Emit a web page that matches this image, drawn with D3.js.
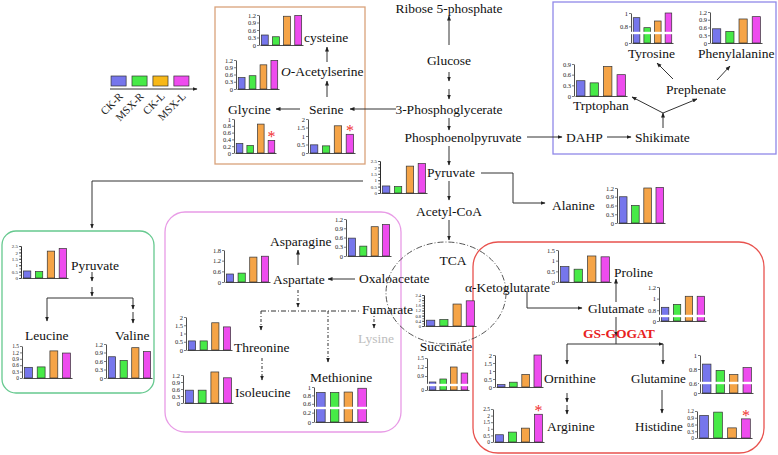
<!DOCTYPE html>
<html><head><meta charset="utf-8">
<script src="https://cdn.jsdelivr.net/npm/d3@7"></script>
<style>body{margin:0;background:#fff}svg{display:block}</style>
</head><body>
<svg id="c" width="778" height="455"></svg>
<script>
// ---------------- DATA ----------------
const groups = ["CK-R", "MSX-R", "CK-L", "MSX-L"];
const barColors = ["#7676ec", "#47ea47", "#f5a447", "#ee4cee"];
const legendColors = ["#7676ec", "#47ea47", "#f7b818", "#ee4cee"];

const cysteineVals      = [0.40, 0.33, 1.15, 1.18];
const oAcetylserineVals = [0.47, 0.55, 1.00, 1.18];
const glycineVals       = [0.28, 0.22, 0.85, 0.37];
const serineVals        = [0.48, 0.42, 1.60, 1.10];
const tyrosineVals      = [0.93, 0.78, 0.88, 1.00];
const phenylalanineVals = [0.55, 0.45, 0.93, 1.02];
const tryptophanVals    = [0.43, 0.37, 0.83, 0.60];
const pyruvateVals      = [0.55, 0.50, 2.10, 2.30];
const alanineVals       = [0.90, 0.60, 1.20, 1.22];
const leucineVals       = [0.50, 0.52, 1.27, 1.17];
const valineVals        = [0.75, 0.62, 1.07, 0.93];
const asparagineVals    = [0.58, 0.32, 0.95, 1.02];
const aspartateVals     = [0.45, 0.50, 1.40, 1.45];
const threonineVals     = [0.55, 0.55, 1.65, 1.40];
const isoleucineVals    = [0.55, 0.55, 1.33, 1.08];
const methionineVals    = [0.87, 0.87, 0.88, 0.97];
const fumarateVals      = [0.45, 0.50, 1.70, 1.95];
const succinateVals     = [0.70, 0.80, 1.20, 1.00];
const prolineVals       = [0.72, 0.60, 1.22, 1.18];
const glutamateVals     = [0.85, 0.90, 1.04, 1.04];
const ornithineVals     = [0.15, 0.30, 0.78, 2.00];
const arginineVals      = [0.55, 0.75, 1.05, 2.10];
const glutamineVals     = [0.87, 0.78, 0.72, 0.82];
const histidineVals     = [1.00, 1.15, 0.45, 0.85];

const ticks09  = [0, 0.3, 0.6, 0.9];
const ticks12  = [0, 0.3, 0.6, 0.9, 1.2];
const ticks15  = [0, 0.3, 0.6, 0.9, 1.2, 1.5];
const ticks15b = [0, 0.5, 1, 1.5];
const ticks1   = [0, 0.2, 0.4, 0.6, 0.8, 1];
const ticks18  = [0, 0.6, 1.2, 1.8];
const ticks2   = [0, 0.5, 1, 1.5, 2];
const ticks24  = [0, 0.4, 0.8, 1.2, 1.6, 2, 2.4];
const ticks25  = [0, 0.5, 1, 1.5, 2, 2.5];
const tyrosineTicks   = [0, 0.8, 1];
const methionineTicks = [0, 0.2, 0.6, 0.8, 1];
const succinateTicks  = [0, 0.9, 1.2, 1.5];
const glutamateTicks  = [0, 0.8, 1, 1.2];
const glutamineTicks  = [0, 0.6, 0.8, 1];

// ---------------- SETUP ----------------
const svg = d3.select("#c");
const FONT = "'Liberation Serif','Times New Roman',serif";
const defs = svg.append("defs");
defs.append("marker").attr("id", "ah").attr("viewBox", "0 0 10 10")
  .attr("refX", 9).attr("refY", 5).attr("markerWidth", 5).attr("markerHeight", 5)
  .attr("orient", "auto")
  .append("path").attr("d", "M0,1L10,5L0,9z").attr("fill", "#222");

// boxes
svg.append("rect").attr("x", 215).attr("y", 7).attr("width", 150).attr("height", 157)
  .attr("fill", "none").attr("stroke", "#d9a27a").attr("stroke-width", 1.3);
svg.append("rect").attr("x", 553).attr("y", 2).attr("width", 223).attr("height", 152)
  .attr("fill", "none").attr("stroke", "#9088e8").attr("stroke-width", 1.3);
svg.append("rect").attr("x", 2).attr("y", 231).attr("width", 152).attr("height", 162).attr("rx", 14)
  .attr("fill", "none").attr("stroke", "#66c98f").attr("stroke-width", 1.3);
svg.append("rect").attr("x", 165).attr("y", 212).attr("width", 236).attr("height", 220).attr("rx", 20)
  .attr("fill", "none").attr("stroke", "#e89be6").attr("stroke-width", 1.3);
svg.append("rect").attr("x", 473).attr("y", 242).attr("width", 291).attr("height", 211).attr("rx", 25)
  .attr("fill", "none").attr("stroke", "#e8524e").attr("stroke-width", 1.3);
svg.append("ellipse").attr("cx", 446).attr("cy", 293).attr("rx", 60).attr("ry", 51)
  .attr("fill", "none").attr("stroke", "#444").attr("stroke-width", 0.9)
  .attr("stroke-dasharray", "6,2,1,2");

// connectors
const arrows = [
  [[449,45],[449,16]], [[449,72],[449,81]], [[449,89],[449,99]], [[449,118],[449,130]],
  [[449,146],[449,165]], [[396,109],[350,109]], [[527,137],[562,137]],
  [[449,181],[449,200]], [[449,220],[449,240]],
  [[481,173],[513,173],[513,203],[545,203]],
  [[363,181],[92,181],[92,228]],
  [[300,109],[276,109]], [[327,62],[327,47]], [[327,97],[327,81]],
  [[110,89],[197,89]],
  [[607,137],[631,137]], [[663,128],[663,113]], [[663,113],[632,97]], [[663,113],[697,99]],
  [[673,79],[657,63]], [[717,80],[730,66]],
  [[92,272],[92,281]], [[92,287],[92,296]], [[47,298],[47,321]],
  [[133,298],[133,309]], [[133,312],[133,323]],
  [[298,265],[298,250]], [[355,279],[328,279]],
  [[527,292],[527,308],[582,308]], [[616,302],[616,279]],
  [[616,317],[616,336]], [[567,344],[663,344]], [[567,344],[567,364]], [[663,344],[663,364]],
  [[567,393],[567,402]], [[567,405],[567,414]], [[662,390],[662,413]]
];
const plainLines = [ [[47,298],[133,298]], [[616,336],[616,344]] ];
const dashArrows = [
  [[298,290],[298,307]], [[261,311],[261,330]], [[328,311],[328,362]],
  [[374,311],[374,328]], [[262,358],[262,380]]
];
const dashLines = [ [[261,311],[360,311]] ];
const line = d3.line();
arrows.forEach(p => svg.append("path").attr("d", line(p)).attr("fill", "none")
  .attr("stroke", "#333").attr("stroke-width", 1).attr("marker-end", "url(#ah)"));
plainLines.forEach(p => svg.append("path").attr("d", line(p)).attr("fill", "none")
  .attr("stroke", "#333").attr("stroke-width", 1));
dashArrows.forEach(p => svg.append("path").attr("d", line(p)).attr("fill", "none")
  .attr("stroke", "#333").attr("stroke-width", 1).attr("stroke-dasharray", "3,2,1,2").attr("marker-end", "url(#ah)"));
dashLines.forEach(p => svg.append("path").attr("d", line(p)).attr("fill", "none")
  .attr("stroke", "#333").attr("stroke-width", 1).attr("stroke-dasharray", "5,2,1,2"));

// ---------------- CHARTS ----------------
const charts = [
  {v: cysteineVals, t: ticks12, max: 1.2, x: 259, y: 45, w: 44, h: 30},
  {v: oAcetylserineVals, t: ticks12, max: 1.2, x: 236, y: 89, w: 43, h: 29},
  {v: glycineVals, t: ticks1, max: 1, x: 234, y: 153, w: 42, h: 34, star: 3},
  {v: serineVals, t: ticks2, max: 2, x: 308, y: 153, w: 47, h: 34, star: 3},
  {v: tyrosineVals, t: tyrosineTicks, max: 1, x: 631, y: 43, w: 42, h: 30, brk: {lo: 0.7, h: 10}},
  {v: phenylalanineVals, t: ticks12, max: 1.2, x: 710, y: 43, w: 52, h: 31},
  {v: tryptophanVals, t: ticks09, max: 0.9, x: 574, y: 96, w: 53, h: 32},
  {v: pyruvateVals, t: ticks25, max: 2.5, x: 380, y: 193, w: 47, h: 32, minor: 0.25, fs: 5},
  {v: alanineVals, t: ticks12, max: 1.2, x: 617, y: 223, w: 48, h: 35},
  {v: pyruvateVals, t: ticks25, max: 2.5, x: 21, y: 278, w: 47, h: 32, minor: 0.25, fs: 5},
  {v: leucineVals, t: ticks15, max: 1.5, x: 22, y: 378, w: 50, h: 32, fs: 5.5},
  {v: valineVals, t: ticks12, max: 1.2, x: 106, y: 378, w: 46, h: 34},
  {v: asparagineVals, t: ticks12, max: 1.2, x: 346, y: 256, w: 45, h: 37},
  {v: aspartateVals, t: ticks18, max: 1.8, x: 224, y: 282, w: 46, h: 32},
  {v: threonineVals, t: ticks2, max: 2, x: 186, y: 350, w: 46, h: 33},
  {v: isoleucineVals, t: ticks12, max: 1.2, x: 183, y: 403, w: 50, h: 28},
  {v: methionineVals, t: methionineTicks, max: 1, x: 314, y: 422, w: 54, h: 35, brk: {lo: 0.5, lowMax: 0.3, h: 14}},
  {v: fumarateVals, t: ticks24, max: 2.4, x: 424, y: 326, w: 52, h: 31, minor: 0.2, fs: 4.5},
  {v: succinateVals, t: succinateTicks, max: 1.5, x: 427, y: 390, w: 42, h: 32, brk: {lo: 0.6, h: 5}, fs: 5.5},
  {v: prolineVals, t: ticks15b, max: 1.5, x: 558, y: 282, w: 53, h: 32},
  {v: glutamateVals, t: glutamateTicks, max: 1.2, x: 659, y: 321, w: 47, h: 34, brk: {lo: 0.7, h: 5}},
  {v: ornithineVals, t: ticks2, max: 2, x: 495, y: 387, w: 48, h: 32},
  {v: arginineVals, t: ticks25, max: 2.5, x: 493, y: 442, w: 51, h: 33, star: 3, fs: 5.5},
  {v: glutamineVals, t: glutamineTicks, max: 1, x: 700, y: 393, w: 53, h: 38, brk: {lo: 0.6, h: 10}},
  {v: histidineVals, t: ticks12, max: 1.2, x: 697, y: 438, w: 55, h: 27, star: 3, fs: 5.5}
];

function styleAxis(sel, fs) {
  sel.selectAll("path.domain").attr("stroke", "#222").attr("stroke-width", 0.8);
  sel.selectAll(".tick line").attr("stroke", "#222").attr("stroke-width", 0.6);
  sel.selectAll("text").attr("font-family", FONT).attr("font-size", fs).attr("fill", "#222");
}

charts.forEach(c => {
  const g = svg.append("g");
  const fs = c.fs || 6.5;
  const x = d3.scaleBand().domain(groups).range([c.x + 1, c.x + c.w])
    .paddingInner(0.38).paddingOuter(0.12);
  let yUp, yLow = null;
  if (c.brk) {
    yUp = d3.scaleLinear().domain([c.brk.lo, c.max]).range([c.y - c.brk.h, c.y - c.h]);
    yLow = d3.scaleLinear().domain([0, c.brk.lowMax || c.brk.lo]).range([c.y, c.y - c.brk.h]);
  } else {
    yUp = d3.scaleLinear().domain([0, c.max]).range([c.y, c.y - c.h]);
  }
  const yv = v => (yLow && v < c.brk.lo) ? yLow(v) : yUp(v);

  g.selectAll("rect.bar").data(c.v).join("rect").attr("class", "bar")
    .attr("x", (d, i) => x(groups[i])).attr("width", x.bandwidth())
    .attr("y", d => yv(d)).attr("height", d => c.y - yv(d))
    .attr("fill", (d, i) => barColors[i]).attr("stroke", "#333").attr("stroke-width", 0.7);

  if (c.minor) {
    const mg = g.append("g").attr("transform", `translate(${c.x},0)`)
      .call(d3.axisLeft(yUp).tickValues(d3.range(0, c.max + 1e-9, c.minor)).tickSize(1.5).tickSizeOuter(0).tickFormat(""));
    styleAxis(mg, fs);
  }
  const upTicks = c.t.filter(t => !yLow || t >= c.brk.lo);
  const ag = g.append("g").attr("transform", `translate(${c.x},0)`)
    .call(d3.axisLeft(yUp).tickValues(upTicks).tickSize(2).tickSizeOuter(0).tickPadding(1).tickFormat(d => d));
  styleAxis(ag, fs);
  if (yLow) {
    const lowTicks = c.t.filter(t => t < c.brk.lo);
    const lg = g.append("g").attr("transform", `translate(${c.x},0)`)
      .call(d3.axisLeft(yLow).tickValues(lowTicks).tickSize(2).tickSizeOuter(0).tickPadding(1).tickFormat(d => d));
    styleAxis(lg, fs);
  }
  const xg = g.append("g").attr("transform", `translate(0,${c.y})`)
    .call(d3.axisBottom(x).tickSize(0).tickSizeOuter(0).tickFormat(""));
  styleAxis(xg, fs);
  if (c.brk) {
    g.append("rect").attr("x", c.x - 1).attr("y", c.y - c.brk.h - 1.2)
      .attr("width", c.w + 2).attr("height", 2.4).attr("fill", "#fff");
  }
  if (c.star != null) {
    const i = c.star;
    g.append("text").attr("x", x(groups[i]) + x.bandwidth() / 2).attr("y", yv(c.v[i]) + 2)
      .attr("text-anchor", "middle").attr("font-family", FONT).attr("font-size", 16)
      .attr("fill", "#f03030").text("*");
  }
});

// ---------------- LEGEND ----------------
const lx = d3.scaleBand().domain(groups).range([110, 190]).paddingInner(0.28).paddingOuter(0.05);
svg.selectAll("rect.leg").data(groups).join("rect").attr("class", "leg")
  .attr("x", d => lx(d)).attr("y", 76).attr("width", lx.bandwidth()).attr("height", 10)
  .attr("fill", (d, i) => legendColors[i]).attr("stroke", "#333").attr("stroke-width", 0.7);
svg.selectAll("text.leg").data(groups).join("text").attr("class", "leg")
  .attr("transform", d => `translate(${lx(d) + lx.bandwidth() / 2 + 5},97) rotate(-45)`)
  .attr("text-anchor", "end").attr("font-family", FONT).attr("font-size", 11).attr("fill", "#222")
  .text(d => d);

// ---------------- LABELS ----------------
const labels = [
  ["Ribose 5-phosphate", 449, 8, "middle"], ["Glucose", 449, 60, "middle"],
  ["3-Phosphoglycerate", 449, 109, "middle"], ["Phosphoenolpyruvate", 463, 137, "middle"],
  ["Pyruvate", 427, 172], ["Acetyl-CoA", 449, 211, "middle"], ["Alanine", 552, 205],
  ["TCA", 453, 260, "middle"], ["Oxaloacetate", 359, 278], ["Fumarate", 362, 309],
  ["α-Ketoglutarate", 465, 287], ["Succinate", 446, 346, "middle"],
  ["Asparagine", 270, 241], ["Aspartate", 273, 279], ["Threonine", 234, 347],
  ["Isoleucine", 235, 392], ["Methionine", 310, 377],
  ["Pyruvate", 71, 265], ["Leucine", 25, 335], ["Valine", 115, 335],
  ["cysteine", 304, 37], ["Serine", 309, 109], ["Glycine", 228, 109],
  ["DAHP", 566, 137], ["Shikimate", 635, 137], ["Prephenate", 666, 89],
  ["Tyrosine", 628, 53], ["Phenylalanine", 698, 53], ["Trptophan", 573, 105],
  ["Proline", 614, 272], ["Glutamate", 588, 308], ["Ornithine", 544, 378],
  ["Arginine", 547, 426], ["Glutamine", 631, 378, "start", 13], ["Histidine", 635, 426, "start", 13]
];
labels.forEach(([t, x, y, a, fs]) => svg.append("text").attr("x", x).attr("y", y + 4.5)
  .attr("text-anchor", a || "start").attr("font-family", FONT).attr("font-size", fs || 13.5)
  .attr("fill", "#111").text(t));
svg.append("text").attr("x", 358).attr("y", 338 + 4.5).attr("font-family", FONT)
  .attr("font-size", 13.5).attr("fill", "#bdbdbd").text("Lysine");
const oa = svg.append("text").attr("x", 281).attr("y", 71 + 4.5).attr("font-family", FONT)
  .attr("font-size", 13.5).attr("fill", "#111");
oa.append("tspan").attr("font-style", "italic").text("O");
oa.append("tspan").text("-Acetylserine");
svg.append("text").attr("x", 583).attr("y", 333 + 4.5).attr("font-family", FONT)
  .attr("font-size", 13.5).attr("font-weight", "bold").attr("fill", "#e82020").text("GS-GOGAT");
</script></body></html>
